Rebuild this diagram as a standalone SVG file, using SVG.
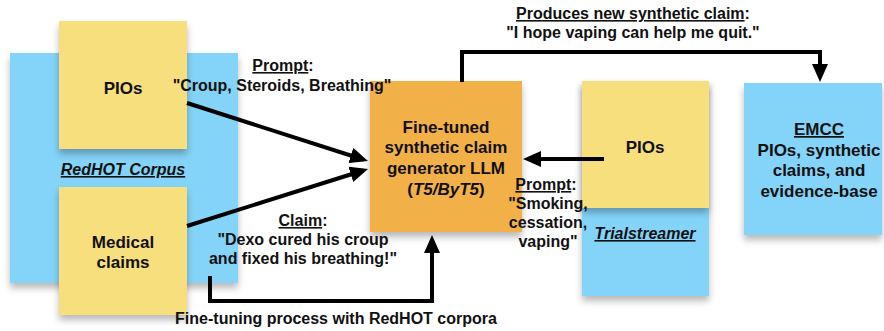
<svg xmlns="http://www.w3.org/2000/svg" width="884" height="331" viewBox="0 0 884 331">
<defs>
<filter id="sh" x="-20%" y="-20%" width="140%" height="150%">
<feDropShadow dx="0" dy="5" stdDeviation="3.5" flood-color="#000" flood-opacity="0.28"/>
</filter>
<marker id="ah" markerUnits="userSpaceOnUse" markerWidth="18" markerHeight="16" viewBox="0 0 18 16" refX="13" refY="8" orient="auto">
<path d="M0,0 L18,8 L0,16 z" fill="#000"/>
</marker>
</defs>
<style>
.blue{fill:#84d4f9}
.yel{fill:#f8df7e}
.org{fill:#f2b04a}
text{font-family:"Liberation Sans",Arial,sans-serif;font-weight:bold;fill:#111;text-anchor:middle}
.n{font-size:17px}
.l{font-size:16px}
.u{text-decoration:underline}
.i{font-style:italic}
.c{fill:none;stroke:#000;stroke-width:4}
</style>
<rect width="884" height="331" fill="#fff"/>
<g id="redhot">
<rect class="blue" x="10" y="53" width="228" height="230" filter="url(#sh)"/>
<text class="l i u" x="123" y="175">RedHOT Corpus</text>
</g>
<g id="pios-left">
<rect class="yel" x="59" y="21" width="128" height="128" filter="url(#sh)"/>
<text class="n" x="123" y="94">PIOs</text>
</g>
<g id="medical-claims">
<rect class="yel" x="59" y="187" width="128" height="128" filter="url(#sh)"/>
<text class="n" x="123" y="248">Medical</text>
<text class="n" x="123" y="268">claims</text>
</g>
<g id="llm">
<rect class="org" x="370" y="81" width="152" height="151" filter="url(#sh)"/>
<text class="n" x="446" y="133">Fine-tuned</text>
<text class="n" x="446" y="153">synthetic claim</text>
<text class="n" x="446" y="174">generator LLM</text>
<text class="n" x="446" y="195">(<tspan class="i">T5/ByT5</tspan>)</text>
</g>
<g id="trialstreamer">
<rect class="blue" x="582" y="81" width="127" height="215" filter="url(#sh)"/>
<text class="l i u" x="645" y="239">Trialstreamer</text>
</g>
<g id="pios-right">
<rect class="yel" x="582" y="81" width="127" height="127" filter="url(#sh)"/>
<text class="n" x="645" y="153">PIOs</text>
</g>
<g id="emcc">
<rect class="blue" x="744" y="83" width="138" height="152" filter="url(#sh)"/>
<text class="n u" x="819" y="135">EMCC</text>
<text class="n" x="819" y="156">PIOs, synthetic</text>
<text class="n" x="819" y="176">claims, and</text>
<text class="n" x="819" y="197">evidence-base</text>
</g>
<g id="connectors">
<path class="c" d="M187,103 L363.2,159.5" marker-end="url(#ah)"/>
<path class="c" d="M187,226 L363.2,170.5" marker-end="url(#ah)"/>
<path class="c" d="M604,159 L528,159" marker-end="url(#ah)"/>
<path class="c" d="M210,276 V301 H432 V240" marker-end="url(#ah)"/>
<path class="c" d="M462,82 V52 H820 V77" marker-end="url(#ah)"/>
</g>
<g id="labels">
<text class="l" x="633" y="19"><tspan class="u">Produces new synthetic claim</tspan>:</text>
<text class="l" x="633" y="38">"I hope vaping can help me quit."</text>
<text class="l" x="283" y="71"><tspan class="u">Prompt</tspan>:</text>
<text class="l" x="282" y="91">"Croup, Steroids, Breathing"</text>
<text class="l" x="303" y="226"><tspan class="u">Claim</tspan>:</text>
<text class="l" x="303" y="245">"Dexo cured his croup</text>
<text class="l" x="303" y="264">and fixed his breathing!"</text>
<text class="l" x="546" y="190"><tspan class="u">Prompt</tspan>:</text>
<text class="l" x="548" y="209">"Smoking,</text>
<text class="l" x="548" y="228">cessation,</text>
<text class="l" x="548" y="247">vaping"</text>
<text class="l" x="336" y="324">Fine-tuning process with RedHOT corpora</text>
</g>
</svg>
